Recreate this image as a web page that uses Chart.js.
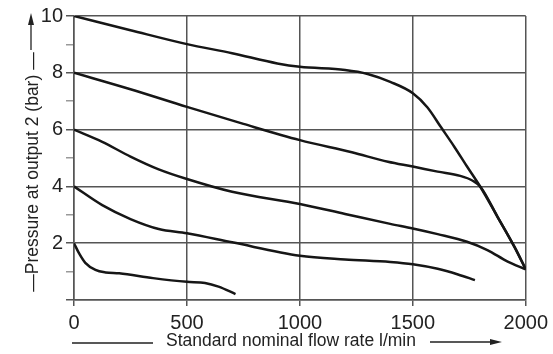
<!DOCTYPE html>
<html>
<head>
<meta charset="utf-8">
<script src="https://cdn.jsdelivr.net/npm/chart.js@4"></script>
<style>
  html, body { margin: 0; padding: 0; background: #fff; }
  #wrap { width: 553px; height: 354px; }
</style>
</head>
<body>
<div id="wrap"><canvas id="chart" width="553" height="354"></canvas></div>
<script>
// ------- Data ---------------------------------------------------------------

const xTicks = [0, 500, 1000, 1500, 2000];
const yTicks = [2, 4, 6, 8, 10];   // labelled values; odd values only get a short tick

// 10 bar supply
const flow10 = [0, 250, 500, 700, 900, 1000, 1200, 1300, 1400, 1500, 1565, 1625, 1685, 1740, 1800, 1875, 1950, 2000];
const pres10 = [10, 9.5, 9.01, 8.69, 8.33, 8.21, 8.1, 7.96, 7.68, 7.28, 6.78, 6.08, 5.38, 4.7, 3.97, 2.93, 1.87, 1.08];

// 8 bar supply
const flow8 = [0, 250, 500, 750, 1000, 1230, 1390, 1500, 1610, 1710, 1765, 1800, 1875, 1950, 2000];
const pres8 = [8, 7.42, 6.8, 6.2, 5.63, 5.2, 4.87, 4.7, 4.52, 4.37, 4.2, 3.98, 2.93, 1.87, 1.08];

// 6 bar supply
const flow6 = [0, 125, 250, 375, 500, 700, 1000, 1200, 1400, 1500, 1610, 1740, 1830, 1920, 2000];
const pres6 = [6, 5.57, 5.05, 4.6, 4.26, 3.81, 3.38, 3.03, 2.68, 2.52, 2.32, 2.05, 1.76, 1.35, 1.08];

// 4 bar supply
const flow4 = [0, 125, 250, 375, 500, 700, 1000, 1200, 1400, 1500, 1610, 1700, 1775];
const pres4 = [4, 3.34, 2.85, 2.5, 2.35, 2.03, 1.56, 1.43, 1.34, 1.26, 1.1, 0.9, 0.7];

// 2 bar supply
const flow2 = [0, 22, 50, 95, 140, 200, 350, 500, 580, 640, 715];
const pres2 = [2, 1.65, 1.31, 1.06, 0.97, 0.94, 0.77, 0.64, 0.6, 0.47, 0.21];

const xTitle = 'Standard nominal flow rate l/min';
const yTitle = '\u2014Pressure at output 2 (bar) \u2014';

// ---------------------------------------------------------------------------

const INK  = '#161616';
const GRID = '#555';
const FONT = "'Liberation Sans', Arial, sans-serif";

function pts (xs, ys) { return xs.map((x, i) => ({ x, y: ys[i] })); }

function series (label, xs, ys) {
  return {
    label,
    data: pts(xs, ys),
    borderColor: INK,
    borderWidth: 2.5,
    pointRadius: 0,
    fill: false,
    cubicInterpolationMode: 'monotone'
  };
}

// axis titles with the little arrows
const axisTitles = {
  id: 'axisTitles',
  afterDraw (chart) {
    const { ctx } = chart;
    ctx.save();
    ctx.fillStyle = '#222';
    ctx.strokeStyle = '#222';
    ctx.lineWidth = 1.3;
    ctx.font = `17.5px ${FONT}`;

    // x title
    ctx.textAlign = 'center';
    ctx.textBaseline = 'middle';
    ctx.fillText(xTitle, 291, 341);
    ctx.beginPath();
    ctx.moveTo(72, 343); ctx.lineTo(153, 343);
    ctx.moveTo(430, 342); ctx.lineTo(494, 342);
    ctx.stroke();
    ctx.beginPath();
    ctx.moveTo(502, 342); ctx.lineTo(490, 339); ctx.lineTo(490, 345);
    ctx.closePath(); ctx.fill();

    // y title (rotated)
    ctx.save();
    ctx.translate(33, 172);
    ctx.rotate(-Math.PI / 2);
    ctx.fillText(yTitle, 0, 0);
    ctx.restore();
    ctx.beginPath();
    ctx.moveTo(31, 50); ctx.lineTo(31, 22);
    ctx.stroke();
    ctx.beginPath();
    ctx.moveTo(31, 13); ctx.lineTo(28, 25); ctx.lineTo(34, 25);
    ctx.closePath(); ctx.fill();
    ctx.restore();
  }
};

new Chart(document.getElementById('chart'), {
  type: 'line',
  data: {
    datasets: [
      series('10 bar', flow10, pres10),
      series('8 bar', flow8, pres8),
      series('6 bar', flow6, pres6),
      series('4 bar', flow4, pres4),
      series('2 bar', flow2, pres2)
    ]
  },
  options: {
    responsive: false,
    animation: false,
    layout: { padding: { left: 0, top: 16, right: 25, bottom: 0 } },
    plugins: { legend: { display: false }, tooltip: { enabled: false } },
    scales: {
      x: {
        type: 'linear',
        min: 0, max: 2000,
        afterBuildTicks: s => { s.ticks = xTicks.map(v => ({ value: v })); },
        afterFit: s => { s.height = 54; },
        ticks: {
          color: '#222',
          font: { family: FONT, size: 20 },
          padding: 5,
          maxRotation: 0,
          callback: v => String(v)
        },
        grid: { color: GRID, lineWidth: 1.5, tickLength: 6 },
        border: { color: GRID, width: 1.5 }
      },
      y: {
        min: 0, max: 10,
        afterBuildTicks: s => {
          s.ticks = [];
          for (let v = 0; v <= 10; v++) s.ticks.push({ value: v });
        },
        afterFit: s => { s.width = 74; },
        ticks: {
          color: '#222',
          font: { family: FONT, size: 20 },
          padding: 3,
          autoSkip: false,
          callback: v => (yTicks.includes(v) ? String(v) : '')
        },
        grid: {
          color: c => (c.tick && c.tick.value % 2 ? 'rgba(0,0,0,0)' : GRID),
          tickColor: c => (c.tick && c.tick.value % 2 ? '#999' : GRID),
          lineWidth: 1.5,
          tickLength: 8
        },
        border: { color: GRID, width: 1.5 }
      }
    }
  },
  plugins: [axisTitles]
});
</script>
</body>
</html>
